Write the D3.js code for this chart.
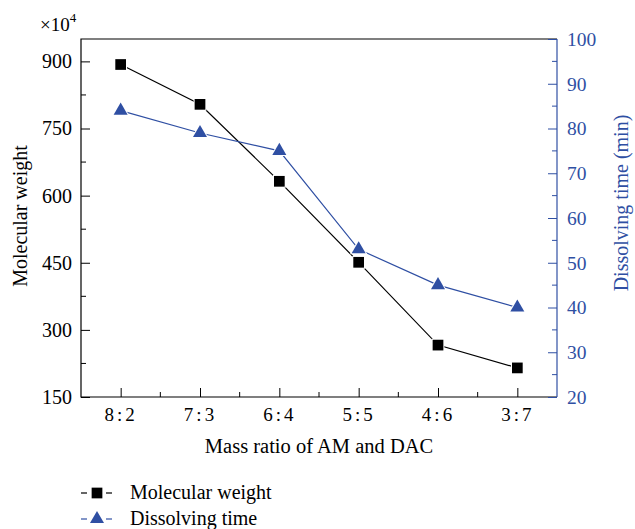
<!DOCTYPE html>
<html>
<head>
<meta charset="utf-8">
<script src="https://cdn.jsdelivr.net/npm/d3@7"></script>
<style>
  body { margin: 0; background: #fff; }
  svg text { font-family: "Liberation Serif", "DejaVu Serif", serif; }
</style>
</head>
<body>
<div id="chart"></div>
<script>
// data
const ratios = ['8:2', '7:3', '6:4', '5:5', '4:6', '3:7'];
const molecularWeight = [893, 804, 632, 451, 266, 215];
const dissolvingTime = [84, 79, 75, 53, 45, 40];
const leftTicks = [150, 300, 450, 600, 750, 900];
const rightTicks = [20, 30, 40, 50, 60, 70, 80, 90, 100];

const width = 635, height = 529;
const blue = '#2f4fa3';
const margin = { top: 39, right: 78, bottom: 132, left: 81 };

const svg = d3.select('#chart').append('svg')
    .attr('width', width)
    .attr('height', height);

const x = d3.scalePoint().domain(ratios)
    .range([margin.left, width - margin.right]).padding(0.5);
const yL = d3.scaleLinear().domain([150, 950]).range([height - margin.bottom, margin.top]);
const yR = d3.scaleLinear().domain([20, 100]).range([height - margin.bottom, margin.top]);

const x0 = margin.left, x1 = width - margin.right;
const y0 = height - margin.bottom, y1 = margin.top;

// frame: black left/top/bottom, blue right
svg.append('path')
    .attr('d', `M${x1},${y1}H${x0}V${y0}H${x1}`)
    .attr('fill', 'none').attr('stroke', '#000').attr('stroke-width', 1.2);
svg.append('line')
    .attr('x1', x1).attr('x2', x1).attr('y1', y1).attr('y2', y0)
    .attr('stroke', blue).attr('stroke-width', 1.2);

// left axis (ticks inward)
const leftAxis = d3.axisLeft(yL).tickValues(leftTicks).tickSizeInner(-9).tickSizeOuter(0).tickPadding(9);
const gL = svg.append('g').attr('transform', `translate(${x0},0)`).call(leftAxis);
gL.select('.domain').remove();
gL.selectAll('text').attr('font-size', 20).attr('fill', '#000');
// minor ticks
svg.append('g').selectAll('line')
    .data(d3.range(225, 950, 150))
    .join('line')
    .attr('x1', x0).attr('x2', x0 + 5)
    .attr('y1', d => yL(d)).attr('y2', d => yL(d))
    .attr('stroke', '#000');

// right axis
const rightAxis = d3.axisRight(yR).tickValues(rightTicks).tickSizeInner(-9).tickSizeOuter(0).tickPadding(10);
const gR = svg.append('g').attr('transform', `translate(${x1},0)`).call(rightAxis);
gR.select('.domain').remove();
gR.selectAll('line').attr('stroke', blue);
gR.selectAll('text').attr('font-size', 19.5).attr('fill', blue);
svg.append('g').selectAll('line')
    .data(d3.range(25, 100, 10))
    .join('line')
    .attr('x1', x1).attr('x2', x1 - 5)
    .attr('y1', d => yR(d)).attr('y2', d => yR(d))
    .attr('stroke', blue);

// bottom axis
const bottomAxis = d3.axisBottom(x).tickSizeInner(-9).tickSizeOuter(0).tickPadding(11);
const gB = svg.append('g').attr('transform', `translate(0,${y0})`).call(bottomAxis);
gB.select('.domain').remove();
gB.selectAll('text').attr('font-size', 19).attr('fill', '#000').attr('letter-spacing', 3);
const step = x.step();
svg.append('g').selectAll('line')
    .data(ratios.slice(0, -1))
    .join('line')
    .attr('x1', d => x(d) + step / 2).attr('x2', d => x(d) + step / 2)
    .attr('y1', y0).attr('y2', y0 - 5)
    .attr('stroke', '#000');

// axis titles
svg.append('text')
    .attr('x', 319).attr('y', 453)
    .attr('text-anchor', 'middle').attr('font-size', 20.5)
    .text('Mass ratio of AM and DAC');
svg.append('text')
    .attr('transform', `translate(27,216) rotate(-90)`)
    .attr('text-anchor', 'middle').attr('font-size', 20)
    .text('Molecular weight');
svg.append('text')
    .attr('transform', `translate(628,203) rotate(-90)`)
    .attr('text-anchor', 'middle').attr('font-size', 20).attr('fill', blue)
    .text('Dissolving time (min)');

// x10^4
const mult = svg.append('text').attr('x', 40).attr('y', 31).attr('font-size', 19);
mult.append('tspan').text('×10');
mult.append('tspan').attr('font-size', 13).attr('dy', -9).text('4');

// series
const mw = ratios.map((r, i) => ({ r, v: molecularWeight[i] }));
const dt = ratios.map((r, i) => ({ r, v: dissolvingTime[i] }));

svg.append('path').datum(mw)
    .attr('d', d3.line().x(d => x(d.r)).y(d => yL(d.v)))
    .attr('fill', 'none').attr('stroke', '#000').attr('stroke-width', 1.2);
svg.append('path').datum(dt)
    .attr('d', d3.line().x(d => x(d.r)).y(d => yR(d.v)))
    .attr('fill', 'none').attr('stroke', blue).attr('stroke-width', 1.2);

const square = d3.symbol().type(d3.symbolSquare).size(115);
const tri = d3.symbol().type(d3.symbolTriangle).size(85);

svg.append('g').selectAll('path')
    .data(mw).join('path')
    .attr('d', square)
    .attr('transform', d => `translate(${x(d.r)},${yL(d.v)})`)
    .attr('fill', '#000').attr('stroke', '#fff').attr('stroke-width', 2)
    .attr('paint-order', 'stroke');
svg.append('g').selectAll('path')
    .data(dt).join('path')
    .attr('d', tri)
    .attr('transform', d => `translate(${x(d.r)},${yR(d.v)})`)
    .attr('fill', blue).attr('stroke', '#fff').attr('stroke-width', 2)
    .attr('paint-order', 'stroke');

// legend
const legend = [
  { name: 'Molecular weight', color: '#000', sym: square, y: 493 },
  { name: 'Dissolving time', color: blue, sym: tri, y: 519 }
];
const lg = svg.append('g').selectAll('g').data(legend).join('g');
lg.append('line').attr('x1', 81).attr('x2', 87).attr('y1', d => d.y).attr('y2', d => d.y).attr('stroke', d => d.color).attr('stroke-width', 1.2);
lg.append('line').attr('x1', 106).attr('x2', 112).attr('y1', d => d.y).attr('y2', d => d.y).attr('stroke', d => d.color).attr('stroke-width', 1.2);
lg.append('path').attr('d', d => d.sym()).attr('transform', d => `translate(97,${d.y})`).attr('fill', d => d.color);
lg.append('text').attr('x', 130).attr('y', d => d.y + 6).attr('font-size', 20).text(d => d.name);
</script>
</body>
</html>
